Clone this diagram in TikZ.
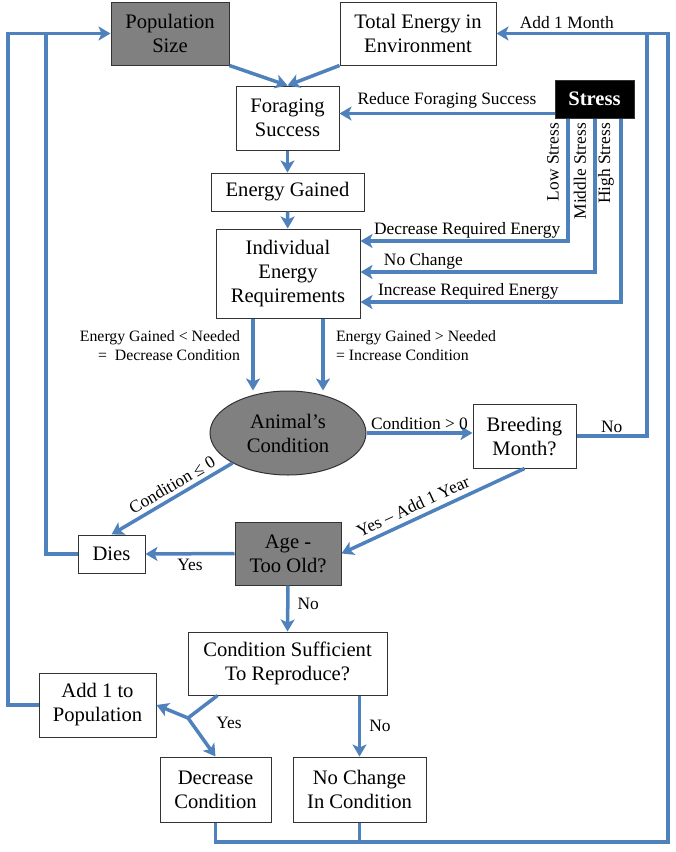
\documentclass[tikz,border=0pt]{standalone}
\usepackage{fontspec}
\setmainfont{Liberation Serif}
\usetikzlibrary{arrows.meta, shapes.geometric}

\definecolor{flowblue}{RGB}{79,129,189}
\definecolor{boxgray}{RGB}{128,128,128}

\newcommand{\boxfont}{\fontsize{20.6}{24}\selectfont}
\newcommand{\lblfont}{\fontsize{17.4}{20}\selectfont}
\newcommand{\smlfont}{\fontsize{15.8}{19}\selectfont}

\begin{document}
\begin{tikzpicture}[%
        x = 1pt, y = -1pt,
        > = {Stealth[length=12pt, width=14pt, inset=3pt]},
        font = \boxfont,
        box/.style = {draw = black!80, line width = 1pt, fill = white,
            align = center, inner sep = 0pt},
        greybox/.style = {box, fill = boxgray},
        flow/.style = {draw = flowblue, line width = 3.5pt},
        lbl/.style = {font = \lblfont, inner sep = 2pt}
    ]

        \useasboundingbox (0,0) rectangle (676,852);

        % Draw the boxes of the model.
        \node[greybox, minimum width=118pt, minimum height=63pt] (pop) at (170,33.5) {Population\\Size};
        \node[box, minimum width=156pt, minimum height=63pt] (tot) at (418,33.5) {Total Energy in\\Environment};
        \node[box, minimum width=103pt, minimum height=64pt] (forage) at (287.5,118) {Foraging\\Success};
        \node[box, fill=black, text=white, font=\boxfont\bfseries,
            minimum width=79pt, minimum height=38pt] (stress) at (594.5,99) {Stress};
        \node[box, minimum width=153pt, minimum height=38pt] (gained) at (287.5,192) {Energy Gained};
        \node[box, minimum width=144pt, minimum height=89pt] (ier) at (288,273.5) {Individual\\Energy\\Requirements};
        \node[greybox, ellipse, minimum width=156pt, minimum height=84pt] (cond) at (288,433) {Animal's\\Condition};
        \node[box, minimum width=103pt, minimum height=64pt] (breed) at (524.5,436) {Breeding\\Month?};
        \node[box, minimum width=67pt, minimum height=38pt] (dies) at (111.5,554) {Dies};
        \node[greybox, minimum width=106pt, minimum height=63pt] (age) at (288,553.5) {Age -\\Too Old?};
        \node[box, minimum width=199pt, minimum height=63pt] (csr) at (287.5,663.5) {Condition Sufficient\\To Reproduce?};
        \node[box, minimum width=117pt, minimum height=64pt] (add) at (97.5,705) {Add 1 to\\Population};
        \node[box, minimum width=111pt, minimum height=65pt] (dec) at (215.5,789.5) {Decrease\\Condition};
        \node[box, minimum width=133pt, minimum height=65pt] (nochg) at (359.5,789.5) {No Change\\In Condition};

        % Corners of the loops round the outside.
        \coordinate (topl) at (8,33.5);
        \coordinate (midl) at (46,33.5);
        \coordinate (topr) at (668,33.5);
        \coordinate (midr) at (647,33.5);
        \coordinate (botr) at (668,842);
        \coordinate (fork) at (188,718);

        % Inputs to foraging.
        \draw[flow, ->] (pop.south east) to (forage.north);
        \draw[flow, ->] (tot.south west) to (forage.north);
        \draw[flow, ->] ([yshift=5pt]stress.south west)
            to node[lbl, midway, above=1pt] {Reduce Foraging Success}
            ([yshift=5pt]stress.south west -| forage.east);
        \draw[flow, ->] (forage) to (gained);
        \draw[flow, ->] (gained) to (ier);

        % The three stress levels.
        \foreach \n/\X/\Y/\p/\lvl/\txt in {1/568/241/0.743/Low Stress/Decrease Required Energy,
                2/595/272/0.866/Middle Stress/No Change,
                3/621/302/0.793/High Stress/Increase Required Energy}{%
            \coordinate (s\n) at (\X,\Y);
            \draw[flow, ->] (stress.south -| s\n) |- (ier.east |- s\n)
                node[lbl, pos=\p, above=-1pt] {\txt};
            \node[lbl, rotate=90, anchor=east] (lv\n) at (\X-15,121) {\lvl};
        }

        % Energy balance changes the condition.
        \draw[flow, ->] ([xshift=-35pt]ier.south)
            to node[pos=0.38, left=8pt, align=right, font=\smlfont] {Energy Gained < Needed\\=\ \ Decrease Condition}
            ([xshift=-35pt]ier.south |- cond.north);
        \draw[flow, ->] ([xshift=35pt]ier.south)
            to node[pos=0.38, right=8pt, align=left, font=\smlfont] {Energy Gained > Needed\\= Increase Condition}
            ([xshift=35pt]ier.south |- cond.north);

        \draw[flow, ->] (cond.east)
            to node[lbl, midway, above] {Condition > 0}
            (cond.east -| breed.west);
        \draw[flow, ->] (cond.south west)
            to node[lbl, pos=0.45, above=2pt, sloped] {Condition ≤ 0}
            (dies.north);
        \draw[flow, ->] (breed.south)
            to node[lbl, pos=0.58, above=3pt, sloped] {Yes – Add 1 Year}
            (age.east);
        \draw[flow] (breed.east) -| (midr)
            node[lbl, pos=0.25, above] {No};
        \draw[flow, ->] (age.west)
            to node[lbl, midway, below=2pt] {Yes}
            (dies.east);
        \draw[flow, ->] (age.south)
            to node[lbl, pos=0.4, right=6pt] {No}
            (csr.north);

        % Reproduction.
        \draw[flow] ([xshift=-70pt]csr.south) to (fork);
        \draw[flow, ->] (fork) to (add.east);
        \draw[flow, ->] (fork) to (dec.north);
        \node[lbl] (yes) at (229,723) {Yes};
        \draw[flow, ->] (nochg.north |- csr.south)
            to node[lbl, midway, right=6pt] {No}
            (nochg.north);

        % Loops back to the top.
        \draw[flow] (nochg.south) to (nochg.south |- botr);
        \draw[flow, ->] (dec.south) |- (botr) -- (topr) -- (tot.east)
            node[lbl, pos=0.59, above=1pt] {Add 1 Month};
        \draw[flow, ->] (add.west) -| (topl) -- (pop.west);
        \draw[flow] (dies.west) -| (midl);
    \end{tikzpicture}
\end{document}
